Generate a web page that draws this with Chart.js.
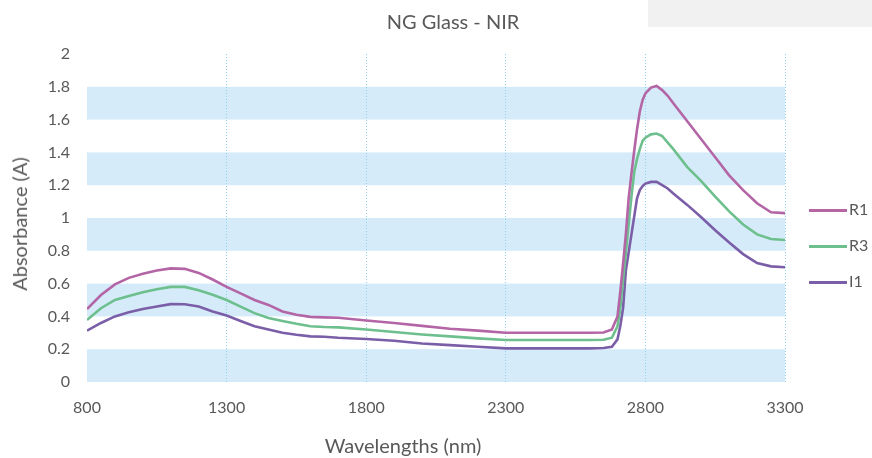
<!DOCTYPE html>
<html>
<head>
    <title>NG Glass - NIR</title>
    <style>
        body { margin: 0; font-family: Lato, sans-serif; color: #595959; }
        #wrap { position: relative; width: 872px; height: 458px; overflow: hidden; background: #fff; }
        #chartBox { position: absolute; left: 0; top: 0; width: 872px; height: 458px; }
        .txt { position: absolute; white-space: nowrap; font-size: 20px; }
        #corner { position: absolute; left: 648px; top: 0; width: 224px; height: 27px; background: #f1f1f1; }
        .leg { position: absolute; left: 809px; font-size: 16px; }
        .leg span.line { position: absolute; left: 0; top: 0; width: 38px; height: 3px; }
        .leg span.lbl { position: absolute; left: 40px; top: -10px; }
    </style>
    <script src="https://cdn.jsdelivr.net/npm/chart.js"></script>
</head>
<body>
<div id="wrap">
    <div id="corner"></div>
    <div id="chartBox"><canvas id="nirChart" width="872" height="458"></canvas></div>
    <div class="txt" style="left:453px; top:9px; transform:translateX(-50%);">NG Glass - NIR</div>
    <div class="txt" style="left:403px; top:433px; transform:translateX(-50%);">Wavelengths (nm)</div>
    <div class="txt" style="left:19px; top:224px; transform:translate(-50%,-50%) rotate(-90deg);">Absorbance (A)</div>
    <div id="legend"></div>
</div>

<script>
    // wavelengths (nm) and absorbance
    const wavelengths = [800, 850, 900, 950, 1000, 1050, 1100, 1150, 1200, 1250, 1300, 1350, 1400, 1450, 1500, 1550, 1600, 1650, 1700,
        1800, 1900, 2000, 2100, 2200, 2300, 2400, 2500, 2600, 2650, 2680, 2700, 2710, 2720, 2730, 2740, 2750, 2760, 2770, 2780, 2790,
        2800, 2820, 2840, 2860, 2880, 2900, 2950, 3000, 3050, 3100, 3150, 3200, 3250, 3300];

    const r1 = [0.445, 0.53, 0.595, 0.635, 0.66, 0.68, 0.693, 0.69, 0.665, 0.625, 0.58, 0.54, 0.50, 0.47, 0.43, 0.41, 0.397, 0.394, 0.392,
        0.375, 0.36, 0.342, 0.325, 0.313, 0.30, 0.30, 0.30, 0.30, 0.302, 0.32, 0.40, 0.55, 0.72, 0.90, 1.12, 1.27, 1.41, 1.54, 1.65, 1.72,
        1.76, 1.795, 1.805, 1.78, 1.745, 1.70, 1.59, 1.48, 1.37, 1.26, 1.17, 1.09, 1.035, 1.03];

    const r3 = [0.378, 0.45, 0.50, 0.525, 0.547, 0.565, 0.58, 0.58, 0.56, 0.532, 0.50, 0.46, 0.42, 0.39, 0.372, 0.355, 0.34, 0.335, 0.333,
        0.32, 0.305, 0.29, 0.278, 0.266, 0.256, 0.256, 0.256, 0.256, 0.258, 0.27, 0.34, 0.45, 0.62, 0.79, 0.96, 1.13, 1.28, 1.36, 1.42, 1.47,
        1.49, 1.51, 1.515, 1.50, 1.46, 1.42, 1.31, 1.225, 1.13, 1.04, 0.96, 0.90, 0.872, 0.866];

    const i1 = [0.313, 0.36, 0.40, 0.425, 0.445, 0.46, 0.475, 0.474, 0.46, 0.43, 0.405, 0.372, 0.34, 0.32, 0.30, 0.288, 0.278, 0.276, 0.27,
        0.262, 0.252, 0.235, 0.225, 0.215, 0.205, 0.205, 0.205, 0.205, 0.207, 0.215, 0.26, 0.34, 0.45, 0.68, 0.79, 0.90, 1.01, 1.12, 1.17, 1.195,
        1.21, 1.22, 1.22, 1.20, 1.18, 1.15, 1.08, 1.005, 0.925, 0.85, 0.78, 0.725, 0.705, 0.70];

    const seriesNames = ['R1', 'R3', 'I1'];
    const seriesColors = ['#b365a6', '#6dbf8d', '#7b5ea8'];
    const seriesValues = [r1, r3, i1];

    // shaded horizontal bands (absorbance ranges)
    const bandStarts = [0, 0.4, 0.8, 1.2, 1.6];
    const bandSize = 0.2;

    const bandsPlugin = {
        id: 'bands',
        beforeDraw(chart) {
            const { ctx, chartArea, scales } = chart;
            ctx.save();
            ctx.fillStyle = '#d5ebf9';
            bandStarts.forEach(b => {
                const yTop = scales.y.getPixelForValue(b + bandSize);
                const yBot = scales.y.getPixelForValue(b);
                ctx.fillRect(chartArea.left, yTop, chartArea.right - chartArea.left, yBot - yTop);
            });
            ctx.restore();
        }
    };

    const datasets = seriesNames.map((name, k) => ({
        label: name,
        data: wavelengths.map((w, i) => ({ x: w, y: seriesValues[k][i] })),
        borderColor: seriesColors[k],
        backgroundColor: seriesColors[k],
        borderWidth: 2.6,
        pointRadius: 0,
        tension: 0
    }));

    const tickFont = { family: 'Lato', size: 16 };

    new Chart(document.getElementById('nirChart'), {
        type: 'line',
        data: { datasets: datasets },
        options: {
            responsive: false,
            animation: false,
            layout: { padding: { top: 54, right: 87, left: 0, bottom: 0 } },
            plugins: {
                legend: { display: false },
                title: { display: false },
                tooltip: { enabled: false }
            },
            scales: {
                x: {
                    type: 'linear',
                    min: 800,
                    max: 3300,
                    afterFit: s => { s.height = 76; },
                    ticks: {
                        stepSize: 500, color: '#595959', font: tickFont, padding: 16,
                        maxRotation: 0, callback: v => String(v)
                    },
                    border: { display: false, dash: [1, 2] },
                    grid: {
                        drawTicks: false,
                        color: c => c.index === 0 ? 'rgba(0,0,0,0)' : '#8fd0ee',
                        lineWidth: 1
                    }
                },
                y: {
                    min: 0,
                    max: 2,
                    afterFit: s => { s.width = 87; },
                    ticks: {
                        stepSize: 0.2, color: '#595959', font: tickFont, padding: 17,
                        callback: v => String(Math.round(v * 10) / 10)
                    },
                    border: { display: false },
                    grid: { display: false, drawTicks: false }
                }
            }
        },
        plugins: [bandsPlugin]
    });

    const legendTops = [209, 245, 281];
    const legendEl = document.getElementById('legend');
    seriesNames.forEach((name, k) => {
        const item = document.createElement('div');
        item.className = 'leg';
        item.style.top = legendTops[k] + 'px';
        item.innerHTML = '<span class="line" style="background:' + seriesColors[k] + '"></span><span class="lbl">' + name + '</span>';
        legendEl.appendChild(item);
    });
</script>
</body>
</html>
